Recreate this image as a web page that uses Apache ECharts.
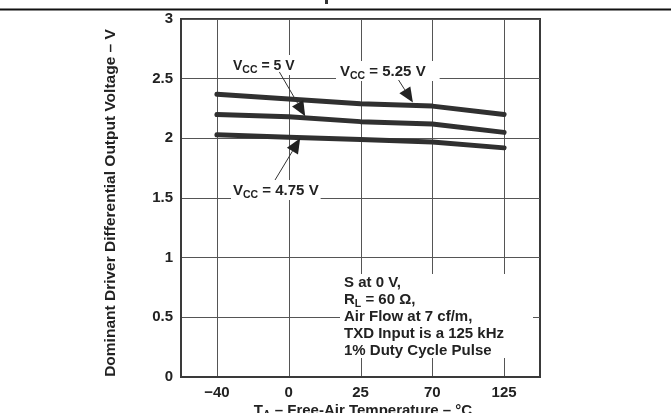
<!DOCTYPE html>
<html><head><meta charset="utf-8">
<script src="https://cdn.jsdelivr.net/npm/echarts@6/dist/echarts.min.js"></script>
<style>html,body{margin:0;padding:0;background:#fff}#c{width:671px;height:413px}</style>
</head><body><div id="c"></div>
<script>
var categories = ['-40', '0', '25', '70', '125'];
var tickLabels = ['\u221240', '0', '25', '70', '125'];
var vcc525 = [2.37, 2.33, 2.29, 2.27, 2.20];
var vcc500 = [2.20, 2.18, 2.14, 2.12, 2.05];
var vcc475 = [2.03, 2.01, 1.99, 1.97, 1.92];
var seriesNames = ['VCC = 5.25 V', 'VCC = 5 V', 'VCC = 4.75 V'];

var FONT = '"Liberation Sans", Arial, sans-serif';
var chart = echarts.init(document.getElementById('c'), null, {renderer: 'canvas'});

function lineSeries(name, data) {
  return {
    name: name, type: 'line', data: data, xAxisIndex: 0, yAxisIndex: 0,
    symbol: 'none', silent: true, z: 5,
    lineStyle: {color: '#303030', width: 5, cap: 'round', join: 'round'}
  };
}

chart.setOption({
  animation: false,
  backgroundColor: '#fff',
  grid: {left: 181, top: 19, width: 359, height: 358, show: true, borderColor: '#3a3a3a', borderWidth: 2, backgroundColor: 'transparent'},
  xAxis: [{
    type: 'category', data: categories, boundaryGap: true,
    axisLine: {show: true, onZero: false, lineStyle: {color: '#3a3a3a', width: 2}},
    axisTick: {show: false}, splitLine: {show: false},
    axisLabel: {margin: 8, fontFamily: FONT, fontWeight: 'bold', fontSize: 15, color: '#222',
      formatter: function (v, i) { return tickLabels[i]; }}
  }, {
    type: 'value', min: -0.5, max: 4.5, show: false
  }],
  yAxis: [{
    type: 'value', min: 0, max: 3, interval: 0.5,
    axisLine: {show: true, onZero: false, lineStyle: {color: '#3a3a3a', width: 2}},
    axisTick: {show: false},
    splitLine: {show: true, lineStyle: {color: '#555', width: 1}},
    axisLabel: {margin: 8, fontFamily: FONT, fontWeight: 'bold', fontSize: 15, color: '#222'}
  }],
  series: [
    lineSeries(seriesNames[0], vcc525),
    lineSeries(seriesNames[1], vcc500),
    lineSeries(seriesNames[2], vcc475)
  ]
});

function px(ix, v) { return chart.convertToPixel({xAxisIndex: 1, yAxisIndex: 0}, [ix, v]); }
function arrow(from, to) {
  var a = px(from[0], from[1]), b = px(to[0], to[1]);
  var dx = b[0] - a[0], dy = b[1] - a[1], L = Math.sqrt(dx * dx + dy * dy);
  var ux = dx / L, uy = dy / L, hl = 15, hw = 6.5;
  var bx = b[0] - ux * hl, by = b[1] - uy * hl;
  return [
    {type: 'line', z: 20, shape: {x1: a[0], y1: a[1], x2: bx, y2: by}, style: {stroke: '#333', lineWidth: 1}},
    {type: 'polygon', z: 20, shape: {points: [[b[0], b[1]], [bx - uy * hw, by + ux * hw], [bx + uy * hw, by - ux * hw]]}, style: {fill: '#222'}}
  ];
}
function vccLabel(txt, x, y, fs, padL, padR) {
  return {
    type: 'text', z: 15, left: x, top: y,
    style: {
      text: '{v|V}{s|CC}{v| = ' + txt + '}',
      backgroundColor: '#fff', padding: [2, padR || 2, 2, padL || 2],
      rich: {
        v: {fontFamily: FONT, fontWeight: 'bold', fontSize: fs, fill: '#222', verticalAlign: 'bottom', lineHeight: 16},
        s: {fontFamily: FONT, fontWeight: 'bold', fontSize: 10.5, fill: '#222', verticalAlign: 'bottom', lineHeight: 12, padding: [0, 0, -3, 0]}
      }
    }
  };
}

var g = [];
// vertical grid lines at category centres
categories.forEach(function (c, i) {
  var top = px(i, 3), bot = px(i, 0);
  var x = Math.round(top[0]) + 0.5;
  g.push({type: 'line', z: 0, silent: true, shape: {x1: x, y1: top[1], x2: x, y2: bot[1]}, style: {stroke: '#555', lineWidth: 1}});
});
// top rule
g.push({type: 'line', z: 1, shape: {x1: 0, y1: 9.5, x2: 671, y2: 9.5}, style: {stroke: '#111', lineWidth: 2}});
g.push({type: 'rect', z: 1, shape: {x: 325, y: 0, width: 3, height: 4}, style: {fill: '#333'}});
// labels
g.push(vccLabel('5 V', 231, 55, 14));
g.push(vccLabel('5.25 V', 336, 61, 15, 4, 14));
g.push(vccLabel('4.75 V', 231, 180, 15));
// arrows (fractional category index, value)
g = g.concat(arrow([0.87, 2.556], [1.23, 2.185]));
g = g.concat(arrow([2.53, 2.489], [2.73, 2.30]));
g = g.concat(arrow([0.81, 1.651], [1.16, 2.00]));
// condition box
g.push({type: 'rect', z: 14, shape: {x: 340, y: 274, width: 193, height: 84}, style: {fill: '#fff'}});
g.push({
  type: 'text', z: 15, left: 344, top: 275,
  style: {
    text: '{a|S at 0 V,}\n{a|R}{s|L}{a| = 60 \u03A9,}\n{a|Air Flow at 7 cf/m,}\n{a|TXD Input is a 125 kHz}\n{a|1% Duty Cycle Pulse}',
    rich: {
      a: {fontFamily: FONT, fontWeight: 'bold', fontSize: 15, fill: '#222', lineHeight: 17, verticalAlign: 'bottom'},
      s: {fontFamily: FONT, fontWeight: 'bold', fontSize: 10.5, fill: '#222', lineHeight: 17, verticalAlign: 'bottom', padding: [0, 0, -3, 0]}
    }
  }
});
// axis titles
g.push({
  type: 'text', z: 10, x: 111, y: 203, rotation: Math.PI / 2,
  style: {text: 'Dominant Driver Differential Output Voltage \u2013 V', fontFamily: FONT, fontWeight: 'bold', fontSize: 15.5, fill: '#222', textAlign: 'center', textVerticalAlign: 'middle'}
});
g.push({
  type: 'text', z: 10, x: 363, y: 402,
  style: {
    text: '{a|T}{s|A}{a| \u2013 Free-Air Temperature \u2013 \u00B0C}', textAlign: 'center', textVerticalAlign: 'top',
    rich: {
      a: {fontFamily: FONT, fontWeight: 'bold', fontSize: 15, fill: '#222', lineHeight: 16, verticalAlign: 'bottom'},
      s: {fontFamily: FONT, fontWeight: 'bold', fontSize: 10.5, fill: '#222', lineHeight: 12, verticalAlign: 'bottom', padding: [0, 0, -3, 0]}
    }
  }
});
chart.setOption({graphic: g});
</script>
</body></html>
